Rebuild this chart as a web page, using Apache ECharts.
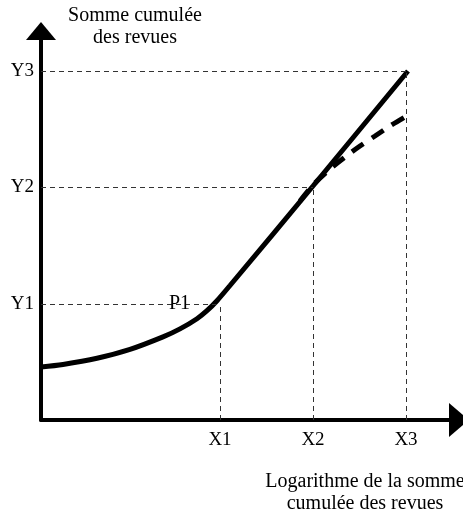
<!DOCTYPE html>
<html>
<head>
<meta charset="utf-8">
<script src="https://cdn.jsdelivr.net/npm/echarts@6/dist/echarts.min.js"></script>
<style>
  html, body { margin: 0; padding: 0; background: #fff; }
  #chart { width: 463px; height: 514px; }
</style>
</head>
<body>
<div id="chart"></div>
<script>
// positions des repères sur les axes
const xTicks = [179, 272, 365]
const xTickNames = ['X1', 'X2', 'X3']
const yTicks = [116, 233, 349]
const yTickNames = ['Y1', 'Y2', 'Y3']

// courbe principale (trait plein)
const mainCurve = [
  [0, 53], [22, 55.5], [56, 61.7], [89, 70.6], [122, 83.1], [139, 91.1],
  [156, 101.3], [166, 109.3], [176, 119.3], [189, 134.5], [272, 234], [367, 349]
]
// variante en tirets après X2
const dashedCurve = [
  [259, 219], [272, 235], [289, 251], [304, 263], [319, 274],
  [334, 284], [349, 294], [364, 303]
]

const font = 'Liberation Serif'

const guides = []
xTicks.forEach((x, i) => {
  const y = yTicks[i]
  guides.push([{ coord: [0, y] }, { coord: [x, y] }])
  guides.push([{ coord: [x, 0] }, { coord: [x, y] }])
})

const option = {
  animation: false,
  title: [
    {
      text: 'Somme cumulée\ndes revues',
      left: 135,
      top: 5,
      padding: 0,
      textAlign: 'center',
      textStyle: { fontFamily: font, fontWeight: 'normal', fontSize: 20, lineHeight: 22, color: '#000' }
    },
    {
      text: 'Logarithme de la somme\ncumulée des revues',
      left: 365,
      top: 471,
      padding: 0,
      textAlign: 'center',
      textStyle: { fontFamily: font, fontWeight: 'normal', fontSize: 20, lineHeight: 22, color: '#000' }
    }
  ],
  grid: {
    left: 41,
    right: 4,
    top: 31,
    bottom: 94,
    containLabel: false,
    outerBoundsMode: 'none'
  },
  xAxis: {
    type: 'value',
    min: 0,
    max: 418,
    splitLine: { show: false },
    axisTick: { show: false },
    axisLine: {
      show: true,
      symbol: ['none', 'triangle'],
      symbolSize: [34, 20],
      lineStyle: { color: '#000', width: 4 }
    },
    axisLabel: {
      customValues: xTicks,
      margin: 11,
      fontFamily: font,
      fontSize: 19,
      color: '#000',
      formatter: (v) => xTickNames[xTicks.indexOf(v)] || ''
    }
  },
  yAxis: {
    type: 'value',
    min: 0,
    max: 389,
    splitLine: { show: false },
    axisTick: { show: false },
    axisLine: {
      show: true,
      symbol: ['none', 'triangle'],
      symbolSize: [30, 18],
      lineStyle: { color: '#000', width: 4 }
    },
    axisLabel: {
      customValues: yTicks,
      margin: 7,
      fontFamily: font,
      fontSize: 19,
      color: '#000',
      formatter: (v) => yTickNames[yTicks.indexOf(v)] || ''
    }
  },
  series: [
    {
      name: 'repères',
      type: 'line',
      data: [],
      markLine: {
        silent: true,
        symbol: 'none',
        label: { show: false },
        lineStyle: { color: '#333', width: 1, type: [5, 4] },
        data: guides
      },
      markPoint: {
        symbol: 'circle',
        symbolSize: 0,
        label: {
          show: true,
          position: 'left',
          distance: 30,
          formatter: 'P1',
          fontFamily: font,
          fontSize: 20,
          color: '#000'
        },
        data: [{ coord: [xTicks[0], yTicks[0]] }]
      }
    },
    {
      name: 'courbe',
      type: 'line',
      data: mainCurve,
      showSymbol: false,
      smooth: 0.3,
      lineStyle: { color: '#000', width: 5 }
    },
    {
      name: 'variante',
      type: 'line',
      data: dashedCurve,
      showSymbol: false,
      smooth: 0.3,
      lineStyle: { color: '#000', width: 5, type: [14, 10] }
    }
  ]
}

const myChart = echarts.init(document.getElementById('chart'))
myChart.setOption(option)
</script>
</body>
</html>
